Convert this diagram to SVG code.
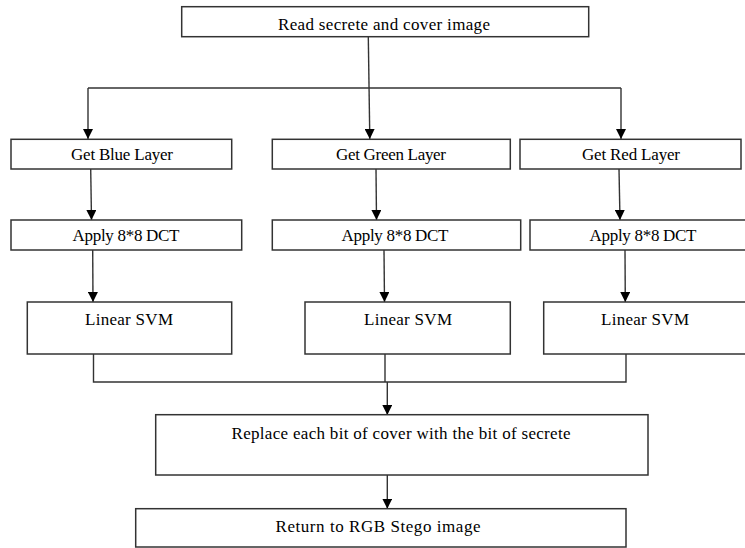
<svg xmlns="http://www.w3.org/2000/svg" width="745" height="548" viewBox="0 0 745 548">
<style>
.box{fill:#fff;stroke:#333;stroke-width:1.5}
.lbl{font-family:"Liberation Serif","Times New Roman",serif;font-size:17px;fill:#000;text-anchor:middle}
.con{fill:none;stroke:#333;stroke-width:1.4}
</style>
<defs>
<marker id="ah" markerUnits="userSpaceOnUse" markerWidth="10" markerHeight="10" refX="10" refY="5" orient="auto" viewBox="0 0 10 10">
<path d="M0,0 L10,5 L0,10 z" fill="#000"/>
</marker>
</defs>
<rect width="745" height="548" fill="#fff"/>
<g id="connectors">
<path class="con" d="M368.3,36.7 L369.8,139" marker-end="url(#ah)"/>
<path class="con" d="M88,88 L621,88"/>
<path class="con" d="M88,88 L88,139" marker-end="url(#ah)"/>
<path class="con" d="M621,88 L621,139" marker-end="url(#ah)"/>
<path class="con" d="M90.7,169 L91.5,220" marker-end="url(#ah)"/>
<path class="con" d="M376,169 L376.5,220" marker-end="url(#ah)"/>
<path class="con" d="M619,169 L620,220" marker-end="url(#ah)"/>
<path class="con" d="M92.7,250 L93,302" marker-end="url(#ah)"/>
<path class="con" d="M384,250 L384.5,302" marker-end="url(#ah)"/>
<path class="con" d="M625,250 L625.3,302" marker-end="url(#ah)"/>
<path class="con" d="M93.5,354 L93.5,382 L626,382 L626,354"/>
<path class="con" d="M385,354 L385,382"/>
<path class="con" d="M387.3,382 L387.3,415" marker-end="url(#ah)"/>
<path class="con" d="M387.3,475 L387.3,508.7" marker-end="url(#ah)"/>
</g>
<g id="read">
<rect class="box" x="181.7" y="6.7" width="407" height="30"/>
<text class="lbl" x="384" y="29.5" textLength="212" lengthAdjust="spacing">Read secrete  and  cover image</text>
</g>
<g id="blue-layer">
<rect class="box" x="11" y="139.3" width="220.7" height="29.7"/>
<text class="lbl" x="122" y="160" font-size="16.5" textLength="102">Get Blue Layer</text>
</g>
<g id="green-layer">
<rect class="box" x="272.3" y="139.3" width="238" height="29.7"/>
<text class="lbl" x="391" y="160" font-size="16.5" textLength="110">Get Green Layer</text>
</g>
<g id="red-layer">
<rect class="box" x="520" y="139.3" width="221" height="29.7"/>
<text class="lbl" x="631" y="160" font-size="16.5" textLength="98">Get Red Layer</text>
</g>
<g id="blue-dct">
<rect class="box" x="11" y="220" width="230.7" height="30"/>
<text class="lbl" x="126" y="241" font-size="16.5" textLength="107">Apply 8*8 DCT</text>
</g>
<g id="green-dct">
<rect class="box" x="272.3" y="220" width="248.4" height="30"/>
<text class="lbl" x="395" y="241" font-size="16.5" textLength="107">Apply 8*8 DCT</text>
</g>
<g id="red-dct">
<rect class="box" x="530" y="220" width="230" height="30"/>
<text class="lbl" x="643" y="241" font-size="16.5" textLength="107">Apply 8*8 DCT</text>
</g>
<g id="blue-svm">
<rect class="box" x="27.3" y="302" width="204.4" height="52"/>
<text class="lbl" x="129" y="325" textLength="88">Linear SVM</text>
</g>
<g id="green-svm">
<rect class="box" x="305" y="302" width="205.3" height="52"/>
<text class="lbl" x="408" y="325" textLength="88">Linear SVM</text>
</g>
<g id="red-svm">
<rect class="box" x="543.7" y="302" width="204" height="52"/>
<text class="lbl" x="645" y="325" textLength="88">Linear SVM</text>
</g>
<g id="replace">
<rect class="box" x="155.7" y="414.7" width="492.3" height="60.3"/>
<text class="lbl" x="401" y="439" font-size="17.5" textLength="339">Replace each bit of cover with the bit of secrete</text>
</g>
<g id="return">
<rect class="box" x="135.7" y="508.7" width="490.3" height="38.3"/>
<text class="lbl" x="378" y="532" font-size="17.5" textLength="205">Return to RGB Stego image</text>
</g>
</svg>
